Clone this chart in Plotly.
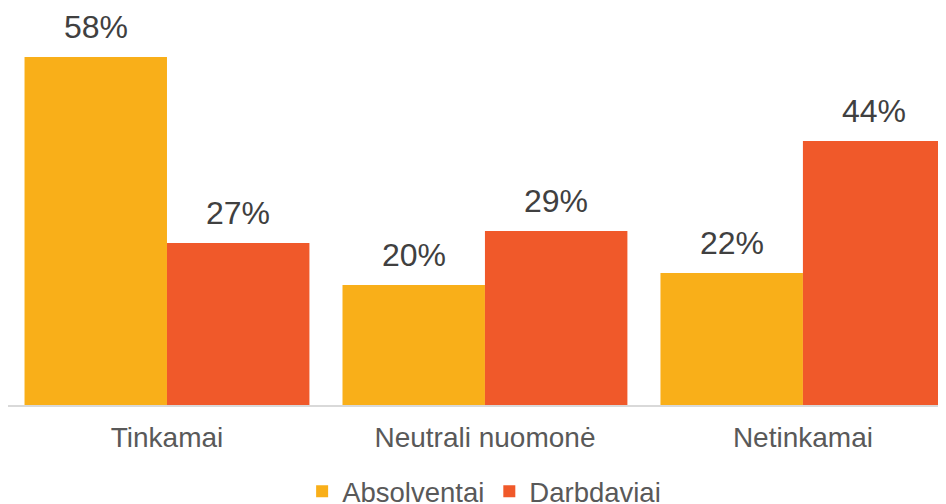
import plotly.graph_objects as go

categories = ["Tinkamai", "Neutrali nuomonė", "Netinkamai"]
absolventai = [58, 20, 22]
darbdaviai = [27, 29, 44]
series_names = ["Absolventai", "Darbdaviai"]
colors = ["#F9AF19", "#F0592A"]

FONT = "Liberation Sans, Arial, sans-serif"

fig = go.Figure()
for name, vals, col in zip(series_names, [absolventai, darbdaviai], colors):
    fig.add_trace(go.Bar(
        x=categories, y=vals, name=name,
        marker=dict(color=col, line=dict(width=0)),
    ))

# data labels
for i, (vals) in enumerate([absolventai, darbdaviai]):
    shift = -71 if i == 0 else 71
    for c, v in zip(categories, vals):
        fig.add_annotation(
            x=c, y=v, text=f"{v}%", showarrow=False,
            xshift=shift, yshift=30, yanchor="middle",
            font=dict(family=FONT, size=32, color="#404040"),
        )

fig.update_layout(
    width=938, height=496,
    margin=dict(l=0, r=0, t=0, b=99, autoexpand=False),
    paper_bgcolor="white", plot_bgcolor="white",
    barmode="group", bargap=0.104, bargroupgap=0,
    showlegend=True,
    legend=dict(orientation="h", x=0.5076, xanchor="center", y=-0.156, yanchor="top",
                font=dict(family=FONT, size=27.5, color="#595959"),
                itemwidth=30, bgcolor="rgba(0,0,0,0)"),
    font=dict(family=FONT),
)
fig.update_xaxes(
    range=[-0.5, 2.45], showline=True, linecolor="#D9D9D9", linewidth=1.5,
    showgrid=False, ticks="", ticklabelstandoff=7, automargin=False,
    tickfont=dict(family=FONT, size=28, color="#595959"),
)
fig.update_yaxes(range=[0, 397 / 6], visible=False, showgrid=False, automargin=False)

fig.write_html("out.html")
